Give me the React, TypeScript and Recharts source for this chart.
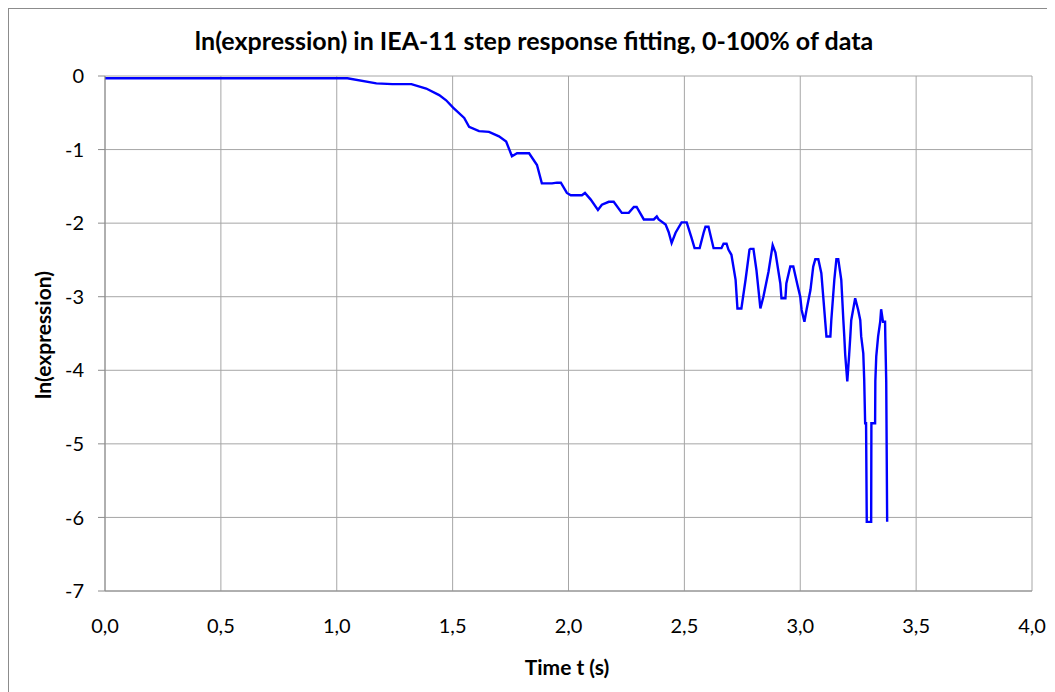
import React from "react";
import { LineChart, Line, XAxis, YAxis, CartesianGrid } from "recharts";

const timeS: number[] = [
  0.0, 1.046, 1.171, 1.24, 1.322, 1.386, 1.442, 1.472, 1.502, 1.55, 1.571, 1.614, 1.657, 1.7, 1.731,
  1.756, 1.778, 1.83, 1.864, 1.885, 1.929, 1.95, 1.967, 1.993, 2.01, 2.058, 2.071, 2.096, 2.127, 2.144,
  2.174, 2.195, 2.23, 2.26, 2.282, 2.294, 2.325, 2.368, 2.381, 2.389, 2.419, 2.432, 2.445, 2.462, 2.488,
  2.51, 2.531, 2.544, 2.566, 2.583, 2.591, 2.604, 2.626, 2.66, 2.669, 2.682, 2.69, 2.703, 2.721, 2.729,
  2.746, 2.764, 2.781, 2.785, 2.798, 2.811, 2.828, 2.841, 2.863, 2.881, 2.893, 2.914, 2.919, 2.936, 2.94,
  2.957, 2.97, 2.988, 3.0, 3.006, 3.018, 3.027, 3.044, 3.056, 3.065, 3.078, 3.091, 3.113, 3.13, 3.134,
  3.147, 3.156, 3.164, 3.177, 3.186, 3.19, 3.194, 3.203, 3.211, 3.216, 3.22, 3.237, 3.25, 3.259, 3.263,
  3.272, 3.276, 3.28, 3.284, 3.287, 3.306, 3.307, 3.323, 3.324, 3.328, 3.336, 3.345, 3.349, 3.357, 3.366,
  3.367, 3.371, 3.375,
];

const lnExpression: number[] = [
  -0.03, -0.03, -0.1, -0.11, -0.11, -0.17, -0.26, -0.33, -0.43, -0.57, -0.69, -0.75, -0.76, -0.82, -0.89,
  -1.09, -1.05, -1.05, -1.21, -1.46, -1.46, -1.45, -1.45, -1.59, -1.62, -1.62, -1.59, -1.68, -1.82, -1.75,
  -1.71, -1.71, -1.86, -1.86, -1.78, -1.78, -1.95, -1.95, -1.91, -1.95, -2.02, -2.12, -2.27, -2.13, -1.99,
  -1.99, -2.2, -2.34, -2.34, -2.13, -2.05, -2.05, -2.34, -2.34, -2.28, -2.28, -2.36, -2.43, -2.77, -3.16,
  -3.16, -2.77, -2.36, -2.35, -2.35, -2.64, -3.16, -3.0, -2.66, -2.3, -2.4, -2.82, -3.02, -3.02, -2.82,
  -2.59, -2.59, -2.84, -3.0, -3.18, -3.34, -3.18, -2.91, -2.59, -2.49, -2.49, -2.68, -3.54, -3.54, -3.32,
  -2.77, -2.49, -2.49, -2.77, -3.32, -3.54, -3.79, -4.15, -3.79, -3.54, -3.32, -3.02, -3.18, -3.32, -3.54,
  -3.77, -4.13, -4.72, -4.72, -6.06, -6.06, -4.72, -4.72, -4.15, -3.81, -3.54, -3.34, -3.17, -3.34, -3.34,
  -3.54, -4.15, -6.06,
];

const xTicks: number[] = [0, 0.5, 1, 1.5, 2, 2.5, 3, 3.5, 4];
const yTicks: number[] = [0, -1, -2, -3, -4, -5, -6, -7];

const titleText = "ln(expression) in IEA-11 step response fitting, 0-100% of data";
const xTitle = "Time t (s)";
const yTitle = "ln(expression)";

const data = timeS.map((t, i) => ({ t, v: lnExpression[i] }));

const FONT = "Lato, 'Open Sans', sans-serif";

export default function App() {
  return (
    <div
      style={{
        position: "relative",
        width: 1047,
        height: 684,
        borderTop: "1px solid #8c8c8c",
        borderLeft: "1px solid #8c8c8c",
        boxSizing: "border-box",
        background: "#fff",
        fontFamily: FONT,
      }}
    >
      <style>{`html,body{overflow:hidden}`}</style>
      <div
        style={{
          position: "absolute",
          left: 525,
          top: 31,
          transform: "translate(-50%,-50%)",
          whiteSpace: "nowrap",
          fontWeight: 700,
          fontSize: 25,
          color: "#000",
        }}
      >
        {titleText}
      </div>
      <div
        style={{
          position: "absolute",
          left: 33,
          top: 326,
          transform: "translate(-50%,-50%) rotate(-90deg)",
          whiteSpace: "nowrap",
          fontWeight: 700,
          fontSize: 21,
          color: "#000",
        }}
      >
        {yTitle}
      </div>
      <div
        style={{
          position: "absolute",
          left: 558,
          top: 657,
          transform: "translate(-50%,-50%)",
          whiteSpace: "nowrap",
          fontWeight: 700,
          fontSize: 21,
          color: "#000",
        }}
      >
        {xTitle}
      </div>
      <LineChart
        width={1046}
        height={683}
        data={data}
        margin={{ top: 67, right: 23, left: 0, bottom: 41 }}
      >
        <CartesianGrid stroke="#a6a6a6" strokeWidth={1} vertical horizontal />
        <XAxis
          dataKey="t"
          type="number"
          domain={[0, 4]}
          ticks={xTicks}
          interval={0}
          height={60}
          tickLine={false}
          tickSize={0}
          tickMargin={28}
          axisLine={{ stroke: "#8c8c8c" }}
          tick={{ fill: "#000", fontSize: 20, fontFamily: FONT }}
          tickFormatter={(v: number) => v.toFixed(1).replace(".", ",")}
        />
        <YAxis
          type="number"
          domain={[-7, 0]}
          ticks={yTicks}
          interval={0}
          width={96}
          tickSize={7}
          tickMargin={14}
          tickLine={{ stroke: "#8c8c8c" }}
          axisLine={{ stroke: "#8c8c8c" }}
          tick={{ fill: "#000", fontSize: 20, fontFamily: FONT }}
        />
        <Line
          type="linear"
          dataKey="v"
          stroke="#0000ff"
          strokeWidth={2.4}
          dot={false}
          isAnimationActive={false}
        />
      </LineChart>
    </div>
  );
}
